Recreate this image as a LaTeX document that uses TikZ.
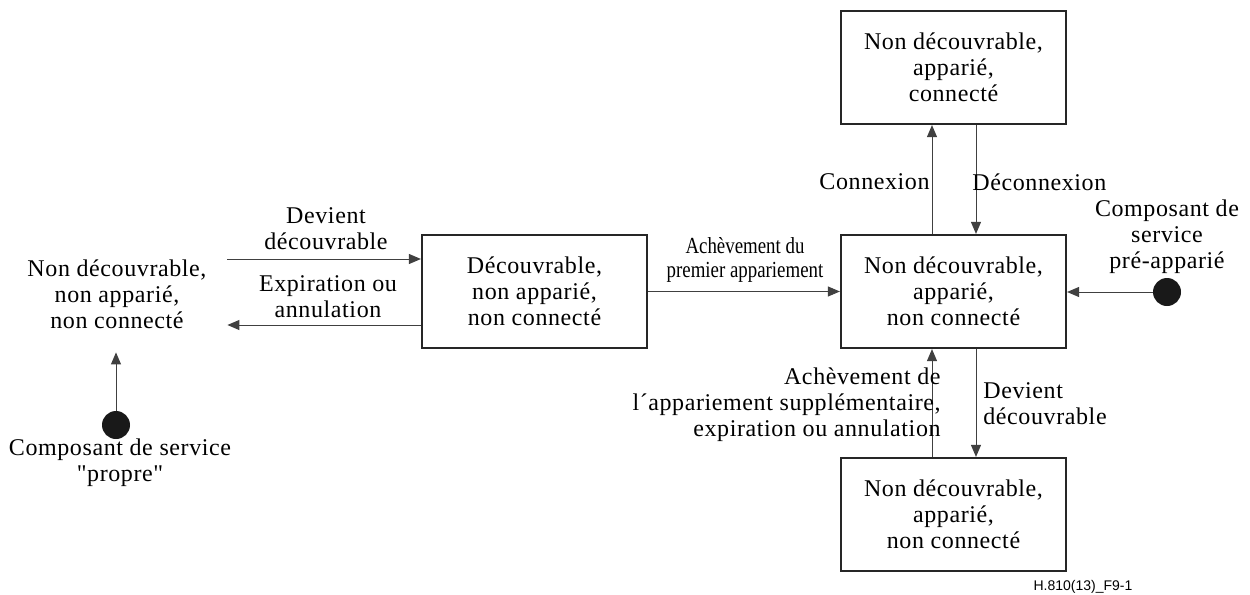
\documentclass[tikz,border=0pt]{standalone}
\usepackage{fontspec}
\setmainfont{Liberation Serif}[Ligatures=TeXOff, LetterSpace=2.5]
\newfontfamily\condensed{Liberation Serif}[FakeStretch=0.82]
\newfontfamily\labelfont{Liberation Sans}
\usetikzlibrary{arrows.meta,calc}
\begin{document}
\begin{tikzpicture}[x=0.5pt,y=-0.5pt,
  txt/.style={font=\fontsize{12}{13}\selectfont, align=center, inner sep=0pt},
  state/.style={txt, draw=black!85, line width=1.1pt, minimum width=112.5pt, minimum height=56.5pt},
  pseudo/.style={circle, fill=black!90, minimum size=14pt, inner sep=0pt},
  arr/.style={-{Triangle[length=6pt,width=5pt]}, line width=0.5pt, draw=black!75}]
\useasboundingbox (0,0) rectangle (1250,595);

% states
\node[txt, minimum width=110pt, minimum height=58pt] (idle) at (117,294)
  {Non découvrable,\\non apparié,\\non connecté};
\node[state] (disc) at (534.5,291.5) {Découvrable,\\non apparié,\\non connecté};
\node[state] (paired) at (953.5,291.5) {Non découvrable,\\apparié,\\non connecté};
\node[state] (conn) at (953.5,67.5) {Non découvrable,\\apparié,\\connecté};
\node[state] (pdisc) at (953.5,514.5) {Non découvrable,\\apparié,\\non connecté};

% initial pseudo-states
\node[pseudo] (clean) at (116,425) {};
\node[pseudo] (pre) at (1167,292) {};

% transitions
\draw[arr] ([yshift=17.5pt]idle.east) -- ([yshift=16.25pt]disc.west);
\draw[arr] ([yshift=-16.75pt]disc.west) -- ([yshift=-15.5pt]idle.east);
\draw[arr] (clean.north) -- (clean.north |- idle.south);
\draw[arr] (disc.east) -- (paired.west);
\draw[arr] (pre.west) -- (pre.west -| paired.east);
\draw[arr] ([xshift=-10.75pt]paired.north) -- ([xshift=-10.75pt]conn.south);
\draw[arr] ([xshift=11.25pt]conn.south) -- ([xshift=11.25pt]paired.north);
\draw[arr] ([xshift=-10.75pt]pdisc.north) -- ([xshift=-10.75pt]paired.south);
\draw[arr] ([xshift=11.25pt]paired.south) -- ([xshift=11.25pt]pdisc.north);

% transition labels
\node[txt] (l1) at (326,229) {Devient\\découvrable};
\node[txt] (l2) at (328,297) {Expiration ou\\annulation};
\node[txt, font=\condensed\fontsize{11.5}{12}\selectfont] (l3) at (745,260) {Achèvement du\\premier appariement};
\node[txt, anchor=east] (l4) at (930,182) {Connexion};
\node[txt, anchor=west] (l5) at (972,182) {Déconnexion};
\node[txt] (l6) at (1167,237) {Composant de\\service\\pré-apparié};
\node[txt, align=right, anchor=east] (l7) at (941,405) {Achèvement de\\l´appariement supplémentaire,\\expiration ou annulation};
\node[txt, align=left, anchor=west] (l8) at (983,404) {Devient\\découvrable};
\node[txt] (l9) at (120,463) {Composant de service\\"propre"};
\node[font=\labelfont\fontsize{7}{8}\selectfont, inner sep=0pt] (fig) at (1083,587) {H.810(13)\_F9-1};
\end{tikzpicture}
\end{document}
